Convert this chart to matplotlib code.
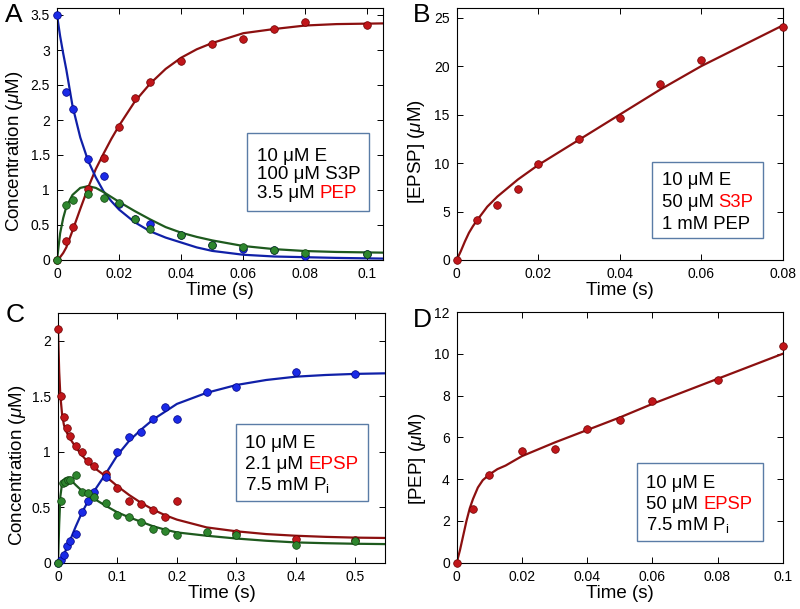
import numpy as np
import matplotlib
matplotlib.use('Agg')
import matplotlib.pyplot as plt
from matplotlib.patches import Rectangle
from matplotlib.text import Annotation
from matplotlib.ticker import FormatStrFormatter

plt.rcParams['font.family'] = ['Liberation Sans', 'DejaVu Sans']
plt.rcParams['mathtext.fontset'] = 'custom'
plt.rcParams['mathtext.rm'] = 'Liberation Sans'
plt.rcParams['mathtext.it'] = 'Liberation Sans:italic'

# ---- panel A: 10 uM E, 100 uM S3P, 3.5 uM PEP ----
a_t = [0, 0.003, 0.005, 0.01, 0.015, 0.02, 0.025, 0.03, 0.04, 0.05, 0.06, 0.07, 0.08, 0.1]
a_red = [0, 0.27, 0.476, 1.02, 1.45, 1.90, 2.32, 2.55, 2.84, 3.08, 3.16, 3.30, 3.40, 3.35]
a_blue = [3.5, 2.40, 2.16, 1.44, 1.20, 0.80, 0.59, 0.51, 0.35, 0.21, 0.15, 0.143, 0.06, 0.09]
a_green = [0, 0.78, 0.857, 0.94, 0.89, 0.81, 0.58, 0.44, 0.35, 0.21, 0.19, 0.14, 0.095, 0.08]
a_fit_t = [0, 0.001, 0.002, 0.003, 0.005, 0.0075, 0.01, 0.0125, 0.015, 0.0175, 0.02, 0.025,
           0.03, 0.035, 0.04, 0.045, 0.05, 0.06, 0.07, 0.08, 0.09, 0.105]
a_fit_red = [0, 0.04, 0.1, 0.18, 0.42, 0.73, 1.03, 1.3, 1.52, 1.73, 1.92, 2.26,
             2.52, 2.73, 2.89, 3.01, 3.10, 3.24, 3.30, 3.35, 3.37, 3.38]
a_fit_blue = [3.5, 3.2, 2.95, 2.72, 2.2, 1.75, 1.42, 1.18, 0.98, 0.84, 0.72, 0.54,
              0.41, 0.32, 0.25, 0.18, 0.13, 0.075, 0.05, 0.04, 0.03, 0.02]
a_fit_green = [0, 0.38, 0.6, 0.76, 0.93, 1.03, 1.055, 1.03, 0.97, 0.90, 0.83, 0.70,
               0.58, 0.47, 0.39, 0.33, 0.28, 0.20, 0.155, 0.128, 0.115, 0.105]

# ---- panel B: 10 uM E, 50 uM S3P, 1 mM PEP ----
b_t = [0, 0.005, 0.01, 0.015, 0.02, 0.03, 0.04, 0.05, 0.06, 0.08]
b_epsp = [0, 4.1, 5.7, 7.3, 9.9, 12.5, 14.7, 18.2, 20.6, 24.0]
b_fit_t = [0, 0.001, 0.002, 0.003, 0.004, 0.005, 0.0075, 0.01, 0.015, 0.02, 0.03,
           0.04, 0.05, 0.06, 0.07, 0.08]
b_fit = [0, 0.9, 1.9, 2.8, 3.5, 4.1, 5.5, 6.55, 8.3, 9.8, 12.4,
         15.0, 17.6, 20.0, 22.1, 24.2]

# ---- panel C: 10 uM E, 2.1 uM EPSP, 7.5 mM Pi ----
c_t = [0, 0.0045, 0.01, 0.015, 0.02, 0.03, 0.04, 0.05, 0.06, 0.08, 0.1, 0.12, 0.14, 0.16,
       0.18, 0.2, 0.25, 0.3, 0.4, 0.5]
c_red = [2.1, 1.50, 1.31, 1.21, 1.14, 1.05, 1.0, 0.92, 0.87, 0.80, 0.67, 0.56, 0.53, 0.48,
         0.41, 0.56, np.nan, 0.27, 0.22, 0.21]
c_blue = [0, 0.03, 0.07, 0.155, 0.20, 0.26, 0.46, 0.56, 0.64, 0.77, 1.0, 1.13, 1.18, 1.29,
          1.40, 1.29, 1.54, 1.58, 1.72, 1.70]
c_green_t = [0, 0.0045, 0.008, 0.012, 0.016, 0.02, 0.03, 0.04, 0.05, 0.06, 0.08, 0.1, 0.12,
             0.14, 0.16, 0.18, 0.2, 0.25, 0.3, 0.4, 0.5]
c_green = [0, 0.56, 0.72, 0.725, 0.75, 0.75, 0.79, 0.64, 0.63, 0.59, 0.54, 0.43, 0.41,
           0.37, 0.31, 0.29, 0.25, 0.28, 0.254, 0.16, 0.20]
c_fit_t = [0, 0.002, 0.004, 0.007, 0.01, 0.012, 0.015, 0.017, 0.02, 0.03, 0.04, 0.05, 0.06,
           0.08, 0.1, 0.12, 0.14, 0.16, 0.18, 0.2, 0.25, 0.3, 0.35, 0.4, 0.45, 0.5, 0.55]
c_fit_red = [2.1, 1.72, 1.5, 1.33, 1.24, 1.21, 1.17, 1.15, 1.12, 1.04, 0.97, 0.91, 0.86,
             0.78, 0.69, 0.61, 0.54, 0.48, 0.43, 0.39, 0.32, 0.285, 0.26, 0.245, 0.235,
             0.228, 0.225]
c_fit_blue = [0, 0.01, 0.02, 0.04, 0.08, 0.1, 0.14, 0.17, 0.2, 0.33, 0.45, 0.55, 0.64,
              0.80, 0.97, 1.1, 1.2, 1.29, 1.36, 1.43, 1.53, 1.6, 1.645, 1.675, 1.69,
              1.70, 1.705]
c_fit_green = [0, 0.35, 0.6, 0.72, 0.75, 0.76, 0.765, 0.765, 0.755, 0.70, 0.65, 0.61, 0.58,
               0.515, 0.455, 0.41, 0.37, 0.33, 0.30, 0.275, 0.245, 0.22, 0.20, 0.185,
               0.178, 0.173, 0.17]

# ---- panel D: 10 uM E, 50 uM EPSP, 7.5 mM Pi ----
d_t = [0, 0.005, 0.01, 0.02, 0.03, 0.04, 0.05, 0.06, 0.08, 0.1]
d_pep = [0, 2.57, 4.22, 5.33, 5.42, 6.42, 6.83, 7.75, 8.74, 10.36]
d_fit_t = [0, 0.001, 0.002, 0.003, 0.004, 0.005, 0.0065, 0.008, 0.01, 0.0125, 0.015,
           0.02, 0.03, 0.04, 0.05, 0.06, 0.07, 0.08, 0.09, 0.1]
d_fit = [0, 0.6, 1.3, 2.0, 2.6, 3.05, 3.6, 3.95, 4.22, 4.48, 4.65,
         5.1, 5.75, 6.35, 6.95, 7.6, 8.2, 8.8, 9.4, 10.0]

notes = {
    'A': [[('10 μM E', 'k')], [('100 μM S3P', 'k')], [('3.5 μM', 'k'), ('PEP', 'red')]],
    'B': [[('10 μM E', 'k')], [('50 μM', 'k'), ('S3P', 'red')], [('1 mM PEP', 'k')]],
    'C': [[('10 μM E', 'k')], [('2.1 μM', 'k'), ('EPSP', 'red')], [('7.5 mM P$_\\mathrm{i}$', 'k')]],
    'D': [[('10 μM E', 'k')], [('50 μM', 'k'), ('EPSP', 'red')], [('7.5 mM P$_\\mathrm{i}$', 'k')]],
}

RED_L, RED_M, RED_E = '#8c1010', '#c0161a', '#6a0000'
BLUE_L, BLUE_M, BLUE_E = '#1020a8', '#1a2ae6', '#000080'
GRN_L, GRN_M, GRN_E = '#1e5a1e', '#2e862e', '#0e400e'

W, H = 800, 609
fig = plt.figure(figsize=(W / 100, H / 100), dpi=100)


def px_axes(l, t, r, b):
    return fig.add_axes([l / W, 1 - b / H, (r - l) / W, (b - t) / H])


def series(ax, ft, fy, t, y, lc, mc, ec):
    ax.plot(ft, fy, color=lc, lw=1.6, zorder=2)
    ax.plot(t, y, 'o', ms=5.5, mfc=mc, mec=ec, mew=0.5, zorder=3, clip_on=False)


def note(lines, box, x, y0, step, size):
    l, t, r, b = box
    fig.add_artist(Rectangle((l / W, 1 - b / H), (r - l) / W, (b - t) / H,
                             transform=fig.transFigure, facecolor='white',
                             edgecolor='#5a7ca6', lw=1.0, zorder=4))
    for i, segs in enumerate(lines):
        prev = fig.text(x / W, 1 - (y0 + i * step) / H, segs[0][0], color=segs[0][1],
                        fontsize=size, va='baseline', zorder=5)
        for s, c in segs[1:]:
            prev = fig.add_artist(Annotation(s, xy=(1, 0), xycoords=prev,
                                             xytext=(size * 0.278, 0),
                                             textcoords='offset points',
                                             va='bottom', ha='left', color=c,
                                             fontsize=size, zorder=5))


conc = 'Concentration ($\\mu$M)'

axA = px_axes(57, 8, 383, 260)
series(axA, a_fit_t, a_fit_red, a_t, a_red, RED_L, RED_M, RED_E)
series(axA, a_fit_t, a_fit_blue, a_t, a_blue, BLUE_L, BLUE_M, BLUE_E)
series(axA, a_fit_t, a_fit_green, a_t, a_green, GRN_L, GRN_M, GRN_E)

axB = px_axes(456.7, 8, 782.7, 260)
series(axB, b_fit_t, b_fit, b_t, b_epsp, RED_L, RED_M, RED_E)

axC = px_axes(58, 312.7, 385, 563)
series(axC, c_fit_t, c_fit_red, c_t, c_red, RED_L, RED_M, RED_E)
series(axC, c_fit_t, c_fit_blue, c_t, c_blue, BLUE_L, BLUE_M, BLUE_E)
series(axC, c_fit_t, c_fit_green, c_green_t, c_green, GRN_L, GRN_M, GRN_E)

axD = px_axes(456.7, 312, 782.7, 562.7)
series(axD, d_fit_t, d_fit, d_t, d_pep, RED_L, RED_M, RED_E)

for ax, xl, yl, xt, yt, lab, lx, ly in [
        (axA, (0, 0.105), (0, 3.6), np.arange(0, 0.101, 0.02), np.arange(0, 3.51, 0.5),
         conc, -0.098, 0.43),
        (axB, (0, 0.08), (0, 26), np.arange(0, 0.081, 0.02), np.arange(0, 26, 5),
         '[EPSP] ($\\mu$M)', -0.091, 0.43),
        (axC, (0, 0.55), (0, 2.25), np.arange(0, 0.51, 0.1), np.arange(0, 2.01, 0.5),
         conc, -0.092, 0.39),
        (axD, (0, 0.1), (0, 12), np.arange(0, 0.101, 0.02), np.arange(0, 12.1, 2),
         '[PEP] ($\\mu$M)', -0.088, 0.415)]:
    ax.set_xlim(xl)
    ax.set_ylim(yl)
    ax.set_xticks(xt)
    ax.set_yticks(yt)
    ax.xaxis.set_major_formatter(FormatStrFormatter('%g'))
    ax.yaxis.set_major_formatter(FormatStrFormatter('%g'))
    ax.tick_params(direction='in', top=True, right=True, length=4, width=0.7,
                   labelsize=10, pad=5)
    for s in ax.spines.values():
        s.set_linewidth(0.8)
    ax.set_xlabel('Time (s)', fontsize=13.5, labelpad=1)
    ax.set_ylabel(lab, fontsize=13.5)
    # ylabel sits a bit low, as in the original
    ax.yaxis.set_label_coords(lx, ly)

note(notes['A'], (246.7, 132.7, 369.3, 210.7), 257, 161, 18.5, 13.5)
note(notes['B'], (651.7, 161.7, 763.3, 238.3), 661.7, 185, 22, 13.3)
note(notes['C'], (236, 424, 368.3, 501), 245, 448.3, 21, 13.6)
note(notes['D'], (636.7, 463.3, 763.3, 540.7), 646, 488.3, 21, 13.3)

for letter, x, y in [('A', 5, 21.7), ('B', 413, 21.7), ('C', 6, 321.7), ('D', 413, 326.7)]:
    fig.text(x / W, 1 - y / H, letter, fontsize=19, va='baseline')

fig.savefig('out.png', dpi=100)
